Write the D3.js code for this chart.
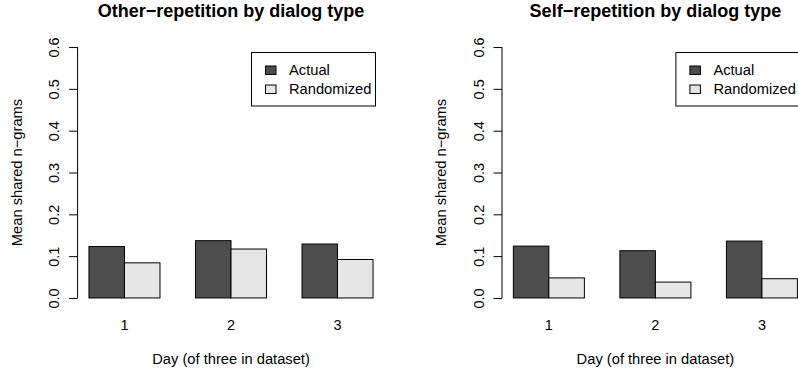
<!DOCTYPE html>
<html>
<head>
<meta charset="utf-8">
<script src="https://cdn.jsdelivr.net/npm/d3@7"></script>
<style>
	body { margin: 0; background: #fff; }
	text { font-family: "Liberation Sans", Arial, Helvetica, sans-serif; fill: #000; }
</style>
</head>
<body>
<script>
var days = ["1", "2", "3"];
var seriesNames = ["Actual", "Randomized"];
var seriesColors = ["#4d4d4d", "#e6e6e6"];
var otherActual = [0.123, 0.137, 0.129];
var otherRandom = [0.084, 0.117, 0.092];
var selfActual = [0.124, 0.113, 0.136];
var selfRandom = [0.048, 0.038, 0.046];
var yTicks = [0, 0.1, 0.2, 0.3, 0.4, 0.5, 0.6];
var panelTitles = ["Other\u2212repetition by dialog type", "Self\u2212repetition by dialog type"];

(function() {

	var width = 798;
	var height = 376;

	var svg = d3.select("body").append("svg")
			.attr("width", width).attr("height", height);

	// R barplot layout: bar width 1, one unit of space before each group
	var x = d3.scaleLinear().domain([0.68, 9.32]).range([77.6, 384.4]);
	var y = d3.scaleLinear().domain([-0.024, 0.624]).range([308, 37]);
	var fmt = d3.format(".1f");

	function drawPanel(offset, title, series) {
		var g = svg.append("g").attr("transform", "translate(" + offset + ",0)");
		var plotMid = (x.range()[0] + x.range()[1]) / 2;

		g.append("text").attr("x", plotMid).attr("y", 17)
				.attr("text-anchor", "middle").style("font-weight", "bold")
				.style("font-size", "18px").text(title);

		// bars
		for (var s = 0; s < series.length; s++) {
			g.selectAll(null).data(series[s]).enter().append("rect")
					.attr("x", function(d, i) { return x(i * 3 + 1 + s); })
					.attr("width", x(2) - x(1))
					.attr("y", function(d) { return y(d); })
					.attr("height", function(d) { return y(0) - y(d); })
					.attr("fill", seriesColors[s])
					.attr("stroke", "#000").attr("stroke-width", 1);
		}

		// y axis
		var ax = g.append("g").attr("transform", "translate(" + x.range()[0] + ",0)")
				.call(d3.axisLeft(y).tickValues(yTicks).tickSize(8.5).tickFormat(fmt));
		ax.select(".domain").remove();
		ax.append("line").attr("y1", y(0)).attr("y2", y(0.6))
				.attr("stroke", "#000");
		ax.selectAll(".tick text").attr("x", 0).attr("dy", 0)
				.attr("text-anchor", "middle").attr("fill", "#000")
				.attr("transform", "translate(-18.5,0) rotate(-90)")
				.style("font-size", "14.5px").style("font-family", null);

		// group labels
		g.selectAll(null).data(days).enter().append("text")
				.attr("x", function(d, i) { return x(i * 3 + 2); })
				.attr("y", 330).attr("text-anchor", "middle")
				.style("font-size", "14.5px").text(function(d) { return d; });

		g.append("text").attr("x", plotMid).attr("y", 363.5)
				.attr("text-anchor", "middle").style("font-size", "14.7px")
				.text("Day (of three in dataset)");

		g.append("text").attr("transform", "translate(22," + (y(0.3)) + ") rotate(-90)")
				.attr("text-anchor", "middle").style("font-size", "14.7px")
				.text("Mean shared n\u2212grams");

		// legend
		var lg = g.append("g").attr("transform", "translate(251.5,52.5)");
		lg.append("rect").attr("width", 124).attr("height", 53.5)
				.attr("fill", "#fff").attr("stroke", "#000");
		lg.selectAll(null).data(seriesNames).enter().append("rect")
				.attr("x", 14).attr("y", function(d, i) { return 13.5 + i * 19; })
				.attr("width", 10.5).attr("height", 8.5)
				.attr("fill", function(d, i) { return seriesColors[i]; })
				.attr("stroke", "#000");
		lg.selectAll(null).data(seriesNames).enter().append("text")
				.attr("x", 37.5).attr("y", function(d, i) { return 22.5 + i * 19; })
				.style("font-size", "14.7px").text(function(d) { return d; });
	}

	drawPanel(0, panelTitles[0], [otherActual, otherRandom]);
	drawPanel(424.4, panelTitles[1], [selfActual, selfRandom]);

})();
</script>
</body>
</html>
